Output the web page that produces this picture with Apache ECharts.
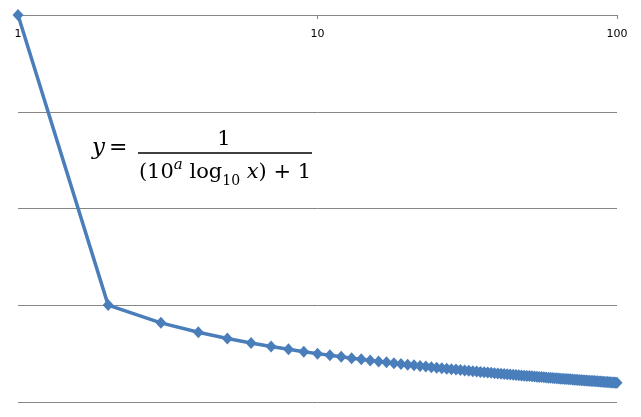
<!DOCTYPE html>
<html>
<head>
<meta charset="utf-8">
<script src="https://cdn.jsdelivr.net/npm/echarts@6/dist/echarts.min.js"></script>
<style>
  html, body { margin: 0; padding: 0; background: #fff; }
  #chart { width: 641px; height: 417px; }
</style>
</head>
<body>
<div id="chart"></div>
<script>
  var xValues = [1, 2, 3, 4, 5, 6, 7, 8, 9, 10,
    11, 12, 13, 14, 15, 16, 17, 18, 19, 20,
    21, 22, 23, 24, 25, 26, 27, 28, 29, 30,
    31, 32, 33, 34, 35, 36, 37, 38, 39, 40,
    41, 42, 43, 44, 45, 46, 47, 48, 49, 50,
    51, 52, 53, 54, 55, 56, 57, 58, 59, 60,
    61, 62, 63, 64, 65, 66, 67, 68, 69, 70,
    71, 72, 73, 74, 75, 76, 77, 78, 79, 80,
    81, 82, 83, 84, 85, 86, 87, 88, 89, 90,
    91, 92, 93, 94, 95, 96, 97, 98, 99, 100];
  var yValues = [1, 1.003e-3, 6.58e-4, 5.253e-4, 4.525e-4, 4.064e-4, 3.742e-4, 3.502e-4, 3.314e-4, 3.162e-4,
    3.037e-4, 2.931e-4, 2.839e-4, 2.759e-4, 2.689e-4, 2.627e-4, 2.570e-4, 2.519e-4, 2.473e-4, 2.431e-4,
    2.392e-4, 2.356e-4, 2.322e-4, 2.291e-4, 2.262e-4, 2.235e-4, 2.209e-4, 2.185e-4, 2.163e-4, 2.141e-4,
    2.121e-4, 2.101e-4, 2.083e-4, 2.065e-4, 2.048e-4, 2.032e-4, 2.017e-4, 2.002e-4, 1.988e-4, 1.974e-4,
    1.961e-4, 1.948e-4, 1.936e-4, 1.924e-4, 1.913e-4, 1.902e-4, 1.891e-4, 1.881e-4, 1.871e-4, 1.861e-4,
    1.852e-4, 1.843e-4, 1.834e-4, 1.826e-4, 1.817e-4, 1.809e-4, 1.801e-4, 1.793e-4, 1.786e-4, 1.779e-4,
    1.771e-4, 1.764e-4, 1.758e-4, 1.751e-4, 1.744e-4, 1.738e-4, 1.732e-4, 1.726e-4, 1.720e-4, 1.714e-4,
    1.708e-4, 1.703e-4, 1.697e-4, 1.692e-4, 1.687e-4, 1.682e-4, 1.676e-4, 1.671e-4, 1.667e-4, 1.662e-4,
    1.657e-4, 1.653e-4, 1.648e-4, 1.644e-4, 1.639e-4, 1.635e-4, 1.631e-4, 1.626e-4, 1.622e-4, 1.618e-4,
    1.614e-4, 1.610e-4, 1.607e-4, 1.603e-4, 1.599e-4, 1.595e-4, 1.592e-4, 1.588e-4, 1.585e-4, 1.581e-4];

  var gridColor = '#868686';
  var lineColor = '#4a7ebb';

  var chart = echarts.init(document.getElementById('chart'));
  var points = xValues.map(function (x, i) { return [x, yValues[i]]; });

  chart.setOption({
    animation: false,
    grid: { left: 18, right: 24, top: 15, bottom: 15 },
    xAxis: {
      type: 'log',
      logBase: 10,
      min: 1,
      max: 100,
      position: 'top',
      axisLine: { onZero: false, lineStyle: { color: gridColor, width: 1 } },
      axisTick: { show: true, inside: true, length: 4, lineStyle: { color: gridColor } },
      axisLabel: {
        inside: true,
        margin: 14,
        color: '#000',
        fontFamily: 'DejaVu Sans',
        fontSize: 11
      },
      splitLine: { show: false },
      minorTick: { show: false }
    },
    yAxis: {
      type: 'log',
      logBase: 10,
      min: 0.0001,
      max: 1,
      axisLine: { show: false },
      axisTick: { show: false },
      axisLabel: { show: false },
      splitLine: { lineStyle: { color: gridColor, width: 1 } }
    },
    series: [{
      type: 'line',
      data: points,
      symbol: 'diamond',
      symbolSize: [11, 12],
      showAllSymbol: true,
      lineStyle: { color: lineColor, width: 3.5 },
      itemStyle: { color: lineColor }
    }],
    // formula annotation
    graphic: [
      {
        type: 'text', left: 92, top: 137,
        style: { text: 'y', font: 'italic 23px "DejaVu Serif"', fill: '#000' }
      },
      {
        type: 'text', left: 109, top: 137,
        style: { text: '=', font: '22px "DejaVu Serif"', fill: '#000' }
      },
      {
        type: 'line',
        shape: { x1: 138, y1: 153, x2: 312, y2: 153 },
        style: { stroke: '#000', lineWidth: 1.5 }
      },
      {
        type: 'text',
        style: { x: 224, y: 140, align: 'center', verticalAlign: 'middle',
          text: '1', font: '21px "DejaVu Serif"', fill: '#000' }
      },
      {
        type: 'text',
        style: {
          x: 225, y: 173, align: 'center', verticalAlign: 'middle',
          text: '{n|(10}{sup|a}{n| log}{sub|10}{i| x}{n|) + 1}',
          fill: '#000',
          rich: {
            n: { fontFamily: 'DejaVu Serif', fontSize: 21, lineHeight: 30 },
            i: { fontFamily: 'DejaVu Serif', fontStyle: 'italic', fontSize: 21, lineHeight: 30 },
            sup: { fontFamily: 'DejaVu Serif', fontStyle: 'italic', fontSize: 15, lineHeight: 20, verticalAlign: 'top' },
            sub: { fontFamily: 'DejaVu Serif', fontSize: 14, lineHeight: 14, verticalAlign: 'bottom' }
          }
        }
      }
    ]
  });
</script>
</body>
</html>
